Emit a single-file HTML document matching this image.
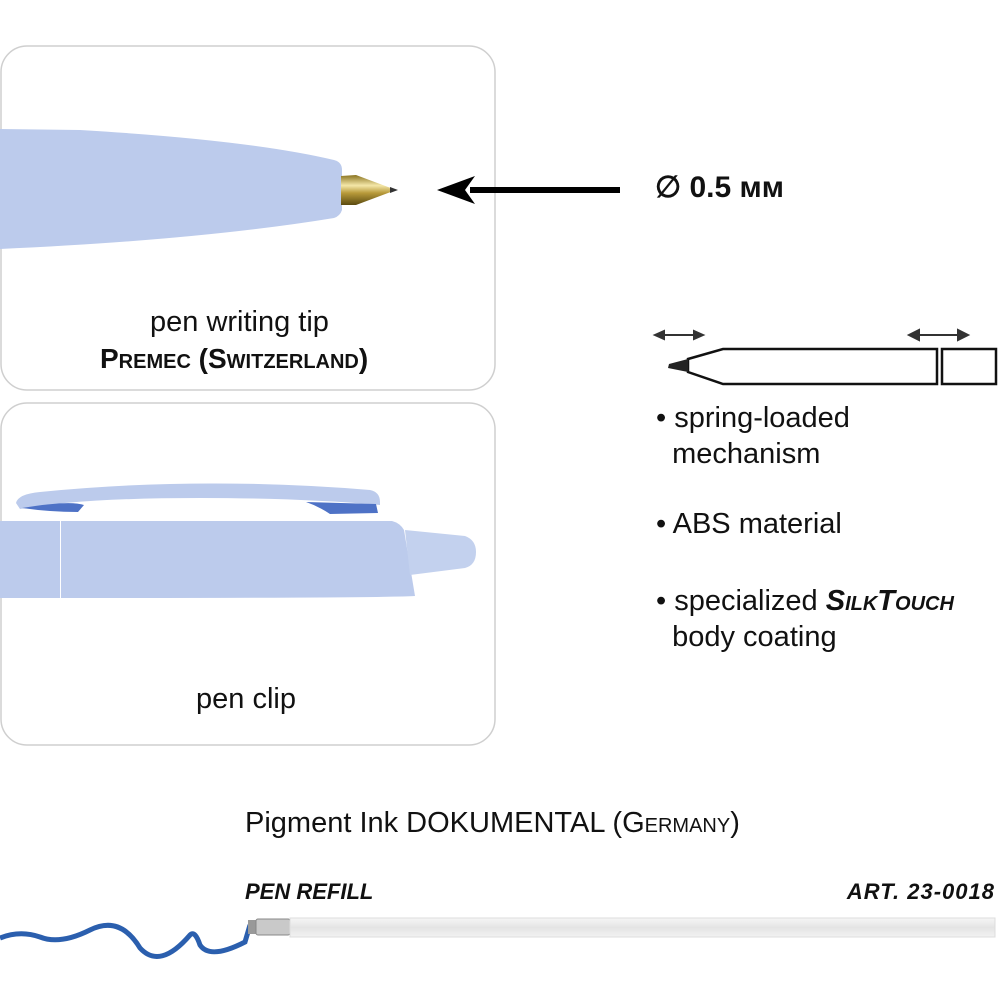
<!DOCTYPE html>
<html><head><meta charset="utf-8"><style>
html,body{margin:0;width:1000px;height:1000px;overflow:hidden}
body{background:#fff;position:relative;font-family:"Liberation Sans",sans-serif;color:#111}
.t{position:absolute;white-space:nowrap}
.sc{font-variant:small-caps}
svg{overflow:hidden;display:block}
</style></head><body>
<svg width="1000" height="1000" style="position:absolute;left:0;top:0">
<defs>
<linearGradient id="gold" x1="0" y1="0" x2="0" y2="1"><stop offset="0" stop-color="#8a7420"/><stop offset=".35" stop-color="#f4e7a8"/><stop offset=".6" stop-color="#b89a3a"/><stop offset="1" stop-color="#5a4a10"/></linearGradient>
<linearGradient id="ref" x1="0" y1="0" x2="0" y2="1"><stop offset="0" stop-color="#f6f6f6"/><stop offset=".5" stop-color="#e4e4e4"/><stop offset="1" stop-color="#f2f2f2"/></linearGradient>
</defs>
<rect x="1" y="46" width="494" height="344" rx="26" fill="#fff" stroke="#cfcfcf" stroke-width="1.5"/>
<rect x="1" y="403" width="494" height="342" rx="26" fill="#fff" stroke="#cfcfcf" stroke-width="1.5"/>
<path d="M0 129 L80 130 Q250 140 334 160 Q342 162 342 170 L342 210 Q340 216 334 218 Q200 240 0 249 Z" fill="#bccbec"/>
<path d="M341 176 L356 175 L396 190 L356 205 L341 205 Z" fill="url(#gold)"/>
<path d="M390 187 L398 190 L390 193 Z" fill="#333"/>
<path d="M620 190 L470 190" stroke="#000" stroke-width="6"/>
<path d="M437 190 L475 176 L465 190 L475 204 Z" fill="#000"/>
<path d="M0 521 L60 521 L60 598 L0 598 Z" fill="#bccbec"/>
<path d="M61 521 L392 521 Q400 523 404 530 L415 596 Q380 598 61 598 Z" fill="#bccbec"/>
<path d="M405 530 L465 536 Q476 540 476 552 Q476 565 465 568 L410 575 Z" fill="#c3d1ee"/>
<path d="M16 503 Q18 494 40 492 Q200 476 370 490 Q380 492 380 502 L380 505 Q300 498 200 498 Q80 498 20 509 Z" fill="#bccbec"/>
<path d="M22 508 Q70 500 84 505 L78 512 Q50 512 22 508 Z" fill="#4e72c6"/>
<path d="M306 502 L376 504 L378 513 L330 514 Q318 506 306 502 Z" fill="#4e72c6"/>
<g stroke="#111" stroke-width="2.5" fill="none">
<path d="M723 349 L937 349 L937 384 L723 384 L688 372 L688 359 Z"/>
<rect x="942" y="349" width="54" height="35"/>
</g>
<path d="M688 359 L669 364 L668 368 L688 372 Z" fill="#222"/>
<g stroke="#333" stroke-width="2" fill="#333">
<path d="M660 335 L698 335"/><path d="M655 335 L664 331 L664 339 Z"/><path d="M703 335 L694 331 L694 339 Z"/>
<path d="M914 335 L962 335"/><path d="M909 335 L919 330 L919 340 Z"/><path d="M968 335 L958 330 L958 340 Z"/>
</g>
<path d="M0 938 Q20 930 40 937 Q60 945 90 930 Q120 915 140 948 Q160 970 190 935 Q195 930 200 945 Q210 960 245 942 L250 925" stroke="#2b5fae" stroke-width="5" fill="none"/>
<rect x="248" y="920" width="10" height="14" fill="#999"/>
<rect x="256" y="919" width="34" height="16" rx="2" fill="#c9c9c9" stroke="#888"/>
<rect x="290" y="918" width="705" height="19" fill="url(#ref)" stroke="#ddd"/>
</svg>
<div class="t" style="left:150px;top:306px;font-size:29px;">pen writing tip</div>
<div class="t" style="left:100px;top:343px;font-size:28px;font-weight:bold;"><span class="sc">Premec (Switzerland)</span></div>
<div class="t" style="left:196px;top:683px;font-size:29px;">pen clip</div>
<div class="t" style="left:655px;top:170px;font-size:30px;font-weight:bold;">∅ 0.5 мм</div>
<div class="t" style="left:656px;top:400px;font-size:29px;line-height:36px">• spring-loaded<br>&nbsp;&nbsp;mechanism</div>
<div class="t" style="left:656px;top:508px;font-size:29px;">• ABS material</div>
<div class="t" style="left:656px;top:583px;font-size:29px;line-height:36px">• specialized <b><i class="sc">SilkTouch</i></b><br>&nbsp;&nbsp;body coating</div>
<div class="t" style="left:245px;top:807px;font-size:29px;">Pigment Ink DOKUMENTAL (<span class="sc">Germany</span>)</div>
<div class="t" style="left:245px;top:879px;font-size:22px;font-weight:bold;font-style:italic;">PEN REFILL</div>
<div class="t" style="right:5px;top:879px;font-size:22px;font-weight:bold;font-style:italic;letter-spacing:1px">ART. 23-0018</div>
</body></html>
